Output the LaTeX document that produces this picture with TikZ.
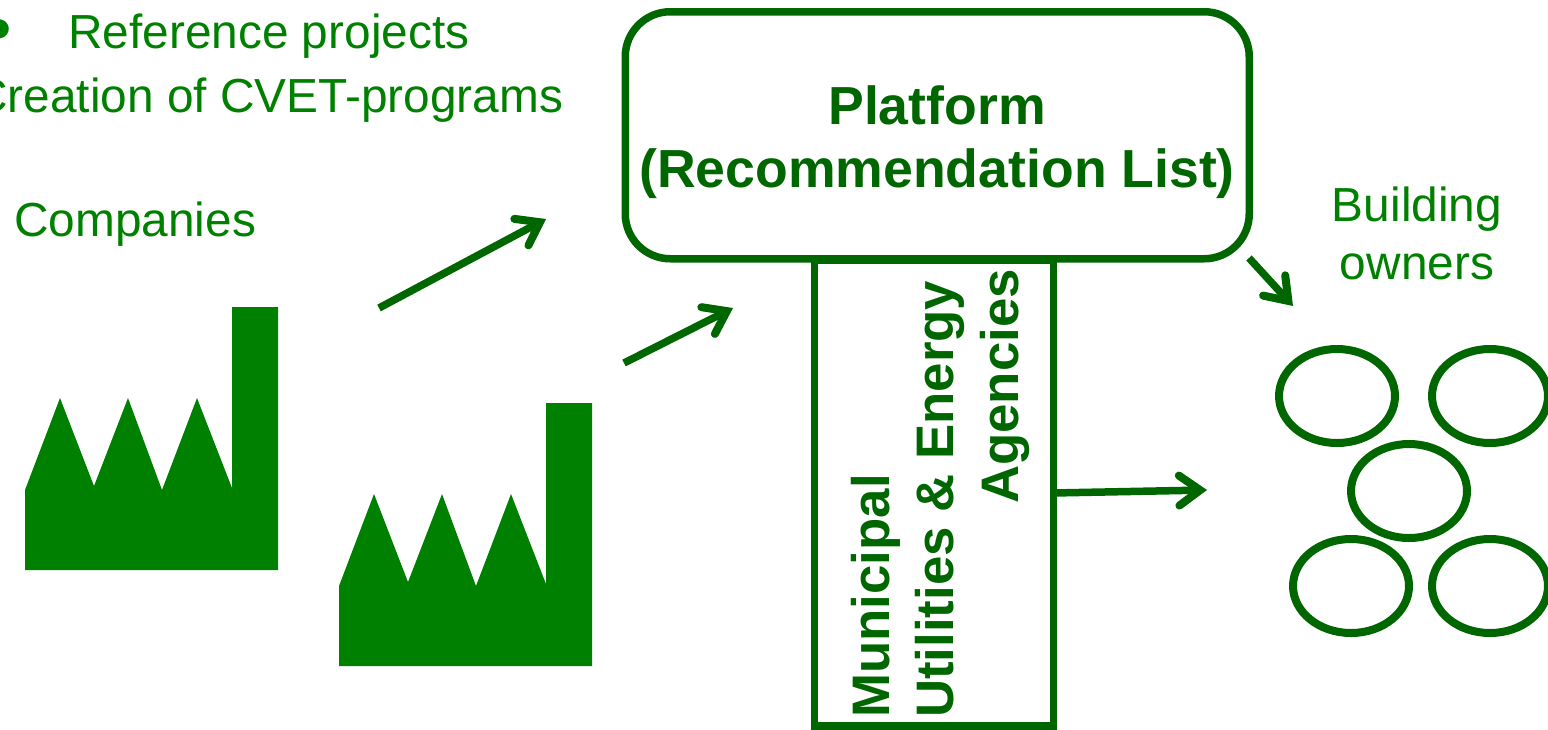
\documentclass[tikz,border=0pt]{standalone}
\usepackage{fontspec}
\setmainfont{Liberation Sans}
\usetikzlibrary{positioning, arrows.meta, shapes.geometric}
\definecolor{factorygreen}{RGB}{0,128,0}
\definecolor{darkgreen}{RGB}{0,102,0}
\tikzset{
	x=1pt, y=-1pt,
	plain text/.style={text=factorygreen, font=\fontsize{47.8}{58}\selectfont, inner sep=0pt, align=center},
	bold text/.style={text=darkgreen, font=\fontsize{53.6}{63}\selectfont\bfseries, inner sep=0pt, align=center},
	side text/.style={text=darkgreen, font=\fontsize{52.8}{63}\selectfont\bfseries, inner sep=0pt, rotate=90, anchor=base west},
	box/.style={draw=darkgreen, line width=7.5pt},
	owner/.style={draw=darkgreen, line width=8pt, ellipse, inner sep=0pt, minimum width=116pt, minimum height=94pt},
	factory/.style={fill=factorygreen, draw=none},
	link/.style={draw=darkgreen, line width=7.5pt, -{Straight Barb[length=21pt,width=30pt,line width=8pt,line cap=round,line join=miter]}}
}
\begin{document}
\begin{tikzpicture}
	\useasboundingbox (0,0) rectangle (1548,729);
	\clip (0,0) rectangle (1548,729);
	% texts at left
	\node[plain text, font=\fontsize{70}{70}\selectfont, anchor=base] (bullet) at (0,52) {\textbullet};
	\node[plain text, anchor=base west] (reference) at (68,48) {Reference projects};
	\node[plain text, anchor=base west] (creation) at (-27,112) {Creation of CVET-programs};
	\node[plain text, anchor=base west] (companies) at (14,236) {Companies};
	% factories
	\fill[factory] (25,570) -- (25,490) -- (60,398) -- (94,486) -- (128,398) -- (162,490) -- (197,398) -- (232,488) -- (232,307) -- (278,307) -- (278,570) -- cycle;
	\fill[factory] (339,666) -- (339,586) -- (374,494) -- (408,582) -- (442,494) -- (476,586) -- (511,494) -- (546,584) -- (546,403) -- (592,403) -- (592,666) -- cycle;
	% boxes
	\draw[box] (814.5,260) rectangle (1053.5,726);
	\node[box, rounded corners=45pt, minimum width=624pt, minimum height=247pt, anchor=north west, fill=white] (platform) at (621.5,8) {};
	\node[bold text] (platformtext) at (937,142) {Platform\\(Recommendation List)};
	\node[side text] (municipal) at (889,718) {Municipal};
	\node[side text] (utilities) at (953,718) {Utilities \& Energy};
	\node[side text] (agencies) at (1018,504) {Agencies};
	\coordinate (utilitiesout) at (1053,493);
	% owners
	\node[plain text] (building) at (1417,233) {Building\\owners};
	\node[owner] (o1) at (1337,396) {};
	\node[owner] (o2) at (1490,396) {};
	\node[owner] (o3) at (1409,491) {};
	\node[owner] (o4) at (1351,586) {};
	\node[owner] (o5) at (1490,586) {};
	% arrows
	\coordinate (a1s) at (379,308);
	\coordinate (a1e) at (546,219);
	\coordinate (a2s) at (624,363);
	\coordinate (a2e) at (733,308);
	\coordinate (a3s) at (1249,258);
	\coordinate (a3e) at (1293,306);
	\coordinate (a4e) at (1207,490);
	\draw[link] (a1s) -- (a1e);
	\draw[link] (a2s) -- (a2e);
	\draw[link] (a3s) -- (a3e);
	\draw[link] (utilitiesout) -- (a4e);
\end{tikzpicture}
\end{document}
